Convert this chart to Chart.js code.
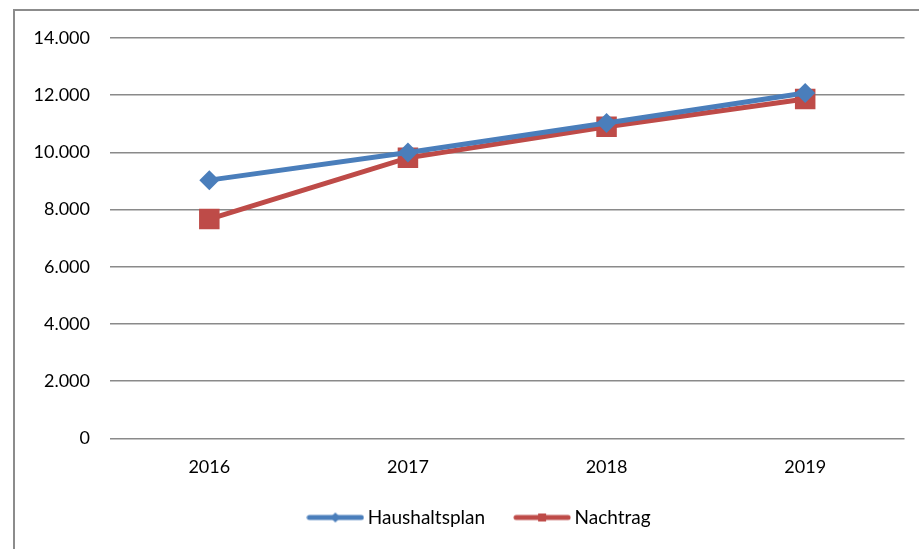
<!DOCTYPE html>
<html>
<head>
<meta charset="utf-8">
<script src="https://cdn.jsdelivr.net/npm/chart.js@4"></script>
<style>
  html, body { margin: 0; padding: 0; background: #fff; overflow: hidden; }
  #wrap { position: relative; width: 919px; height: 549px; }
  #rahmen { position: absolute; left: 13px; top: 9px; width: 1000px; height: 1000px; border: 2px solid #8c8c8c; box-sizing: border-box; }
  canvas { position: absolute; left: 0; top: 0; }
</style>
</head>
<body>
<div id="wrap">
  <div id="rahmen"></div>
  <canvas id="grafik" width="919" height="549"></canvas>
</div>
<script>
// Daten
const jahre = ["2016", "2017", "2018", "2019"];
const haushaltsplan = [9030, 10000, 11030, 12080];
const nachtrag = [7670, 9810, 10900, 11870];
const yTicks = ["0", "2.000", "4.000", "6.000", "8.000", "10.000", "12.000", "14.000"];

const BLAU = "#4a7ebb";
const ROT = "#be4b48";
const SCHRIFT = "Lato, 'Open Sans', sans-serif";

// kleine Legendenbilder: Linie mit Marker
function legendBild(farbe, form) {
  const c = document.createElement("canvas");
  c.width = 58; c.height = 14;
  const ctx = c.getContext("2d");
  ctx.strokeStyle = farbe;
  ctx.lineWidth = 5;
  ctx.lineCap = "round";
  ctx.beginPath();
  ctx.moveTo(3, 7); ctx.lineTo(55, 7);
  ctx.stroke();
  ctx.fillStyle = farbe;
  if (form === "raute") {
    ctx.beginPath();
    ctx.moveTo(29, 2); ctx.lineTo(34, 7); ctx.lineTo(29, 12); ctx.lineTo(24, 7);
    ctx.closePath(); ctx.fill();
  } else {
    ctx.fillRect(25, 3, 8, 8);
  }
  return c;
}
const bilder = [legendBild(BLAU, "raute"), legendBild(ROT, "quadrat")];

// Legende etwas verschieben (Excel zentriert im breiteren Diagrammrahmen)
const legendeVerschieben = {
  id: "legendeVerschieben",
  afterLayout(chart) {
    const l = chart.legend;
    l.left += 17; l.right += 17;
    l.top -= 14; l.bottom -= 14;
  }
};

new Chart(document.getElementById("grafik"), {
  type: "line",
  data: {
    labels: jahre,
    datasets: [
      { label: "Haushaltsplan", data: haushaltsplan, borderColor: BLAU, backgroundColor: BLAU,
        borderWidth: 5, pointStyle: "rectRot", pointRadius: 10, pointHoverRadius: 10, pointBorderWidth: 0, tension: 0 },
      { label: "Nachtrag", data: nachtrag, borderColor: ROT, backgroundColor: ROT,
        borderWidth: 5, pointStyle: "rect", pointRadius: 14.5, pointHoverRadius: 14.5, pointBorderWidth: 0, tension: 0 }
    ]
  },
  plugins: [legendeVerschieben],
  options: {
    responsive: false,
    animation: false,
    devicePixelRatio: 1,
    layout: { padding: { left: 20, right: 10, top: 38, bottom: -2 } },
    plugins: {
      tooltip: { enabled: false },
      legend: {
        position: "bottom",
        labels: {
          usePointStyle: true,
          pointStyleWidth: 46,
          padding: 34,
          color: "#000",
          font: { family: SCHRIFT, size: 19 },
          generateLabels: function(chart) {
            const items = Chart.defaults.plugins.legend.labels.generateLabels(chart);
            items.forEach((it, i) => { it.pointStyle = bilder[i]; });
            return items;
          }
        }
      }
    },
    scales: {
      x: {
        offset: true,
        grid: { display: false },
        border: { display: false },
        ticks: { color: "#000", font: { family: SCHRIFT, size: 18 }, padding: 10 }
      },
      y: {
        min: 0,
        max: 14000,
        afterFit: s => { s.width = 90; },
        grid: { color: "#8a8a8a", lineWidth: 1.5, drawTicks: false },
        border: { display: false },
        ticks: {
          stepSize: 2000,
          padding: 20,
          color: "#000",
          font: { family: SCHRIFT, size: 18 },
          callback: (v, i) => yTicks[i]
        }
      }
    }
  }
});
</script>
</body>
</html>
